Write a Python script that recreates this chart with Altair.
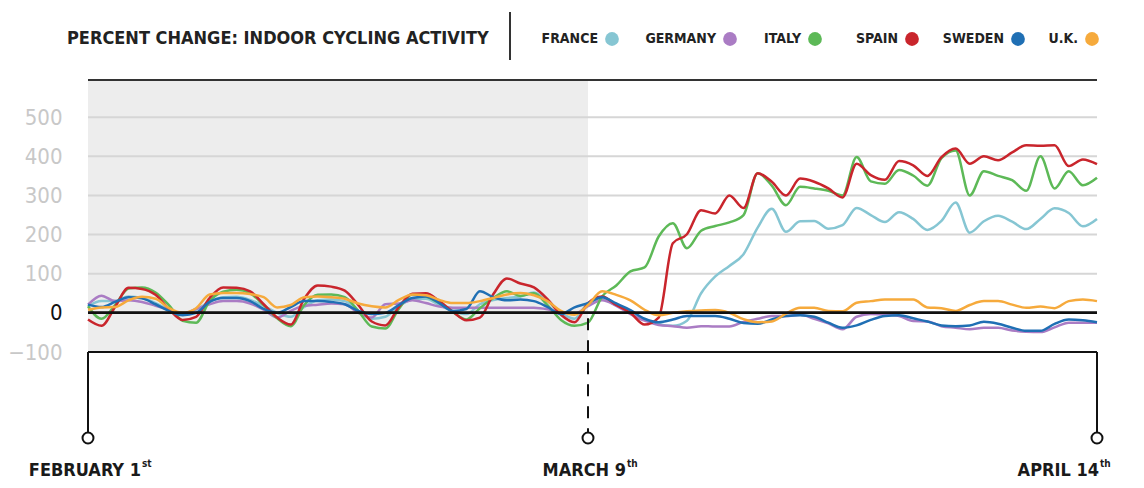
import altair as alt
import pandas as pd

COUNTRIES = ["FRANCE", "GERMANY", "ITALY", "SPAIN", "SWEDEN", "U.K."]
COLORS = ["#86c6d3", "#aa7cc4", "#5db957", "#c9252c", "#1f6fb4", "#f6aa3c"]
START, MID, END = "2020-02-01", "2020-03-09", "2020-04-14"
DATES = pd.date_range(START, END, freq="D")

FRANCE = [17, 30, 30, 42, 38, 25, 7, -4, 8, 28, 40, 41, 33, 18, 0, -10, 15, 32, 34, 30,
          5, -15, -10, 17, 34, 36, 20, 5, -3, 22, 33, 38, 42, 52, 30, 0, -15, 25,
          35, 19, 0, -17, -29, -33, -20, 50, 93, 120, 150, 218, 266, 207, 234, 235, 215, 224,
          268, 250, 232, 257, 240, 212, 235, 282, 205, 234, 248, 233, 214, 240, 267, 255, 221, 240]
GERMANY = [21, 44, 30, 32, 28, 18, 8, -2, 10, 22, 30, 30, 24, 8, -12, 5, 18, 21, 24, 22,
           0, -12, 22, 24, 32, 25, 16, 13, 13, 13, 13, 13, 13, 13, 9, 0, -2, 17,
           32, 18, -3, -20, -31, -34, -38, -34, -35, -35, -23, -15, -8, -8, -5, -15, -27, -42,
           -10, -3, -4, -8, -21, -22, -34, -38, -42, -38, -38, -45, -48, -49, -37, -25, -25, -25]
ITALY = [17, -15, 20, 62, 65, 52, 19, -20, -25, 30, 54, 59, 50, 20, -14, -34, 20, 46, 47, 40,
         5, -35, -40, 10, 47, 42, 25, 2, -17, 12, 38, 55, 43, 50, 20, -18, -33, -25,
         42, 70, 106, 116, 195, 229, 165, 210, 222, 231, 250, 357, 325, 275, 322, 318, 312, 300,
         398, 336, 330, 365, 351, 325, 395, 415, 300, 362, 350, 339, 312, 400, 318, 362, 326, 345]
SPAIN = [-17, -33, 15, 64, 61, 46, 9, -18, -10, 38, 65, 64, 55, 22, -12, -30, 36, 70, 67, 57,
         20, -22, -32, 15, 49, 50, 30, 3, -19, -12, 48, 88, 75, 65, 35, -5, -24, 25,
         42, 20, 0, -30, -12, 178, 201, 262, 254, 300, 268, 357, 335, 300, 343, 335, 318, 295,
         381, 352, 340, 388, 377, 350, 398, 420, 381, 400, 390, 410, 428, 427, 428, 375, 392, 380]
SWEDEN = [21, 15, 28, 40, 37, 22, 5, -6, 0, 28, 38, 38, 30, 10, 0, 15, 30, 30, 28, 22,
          5, -3, 0, 20, 38, 42, 25, 5, 10, 55, 40, 32, 34, 30, 15, -3, 14, 25,
          40, 24, 7, -15, -24, -17, -8, -8, -8, -15, -26, -28, -17, -8, -6, -10, -25, -38,
          -32, -18, -8, -6, -14, -22, -32, -34, -32, -23, -28, -38, -46, -46, -28, -17, -19, -24]
UK = [8, 14, 15, 32, 41, 36, 12, 0, 12, 47, 51, 51, 48, 40, 14, 20, 40, 42, 40, 36,
      24, 17, 14, 33, 47, 45, 33, 25, 25, 30, 38, 47, 51, 45, 30, 5, -5, 20,
      55, 46, 32, 8, -6, 0, 4, 6, 7, 0, -16, -24, -22, -2, 13, 13, 5, 4,
      26, 30, 34, 34, 34, 14, 12, 5, 20, 30, 30, 21, 13, 16, 12, 30, 34, 30]

SERIES = [FRANCE, GERMANY, ITALY, SPAIN, SWEDEN, UK]
Y_TICKS = [-100, 0, 100, 200, 300, 400, 500]
GRID = [100, 200, 300, 400, 500]
Y_MIN, Y_MAX = -100, 595
TITLE = "PERCENT CHANGE: INDOOR CYCLING ACTIVITY"
MARK_DATES = [START, MID, END]
MARK_MAIN = ["FEBRUARY 1", "MARCH 9", "APRIL 14"]
MARK_SUP = ["st", "th", "th"]

# ---------- build tables (day = days since February 1st) ----------
t0 = pd.Timestamp(START)


def day(s):
    return (pd.Timestamp(s) - t0).days


rows = []
for name, vals in zip(COUNTRIES, SERIES):
    for d, v in zip(DATES, vals):
        rows.append({"date": d, "day": (d - t0).days, "country": name, "value": v})
lines_df = pd.DataFrame(rows)
shade_df = pd.DataFrame({"start": [day(START)], "end": [day(MID)]})
grid_df = pd.DataFrame({"v": GRID})
marks_df = pd.DataFrame({"day": [day(s) for s in MARK_DATES], "main": MARK_MAIN, "sup": MARK_SUP})

NARROW = "Liberation Sans Narrow, DejaVu Sans Condensed, Roboto Condensed, sans-serif"
W, H = 1009, 272

# piecewise day axis: the reference places March 9th at 500 px of the 1009 px span
xscale = alt.Scale(domain=[day(START), day(MID), day(END)], range=[0, 500, W],
                   nice=False, zero=False)
yscale = alt.Scale(domain=[Y_MIN, Y_MAX], nice=False, zero=False)


def X(f):
    return alt.X(f, type="quantitative", scale=xscale, axis=None)


shade = alt.Chart(shade_df).mark_rect(color="#ededed").encode(
    x=X("start"), x2="end",
    y=alt.datum(Y_MAX, scale=yscale), y2=alt.datum(Y_MIN),
)

grid = alt.Chart(grid_df).mark_rule(color="#d6d6d6", strokeWidth=2).encode(
    y=alt.Y("v:Q", scale=yscale,
            axis=alt.Axis(values=Y_TICKS, title=None, domain=False, ticks=False, tickSize=0,
                          grid=False, labelFont=NARROW, labelFontSize=22, labelPadding=26,
                          labelColor=alt.expr("datum.value == 0 ? '#111111' : '#c8c8c8'"))),
)

lines = alt.Chart(lines_df).mark_line(strokeWidth=2.5, interpolate="monotone").encode(
    x=X("day"),
    y=alt.Y("value:Q", scale=yscale),
    color=alt.Color("country:N", scale=alt.Scale(domain=COUNTRIES, range=COLORS), legend=None),
    order=alt.Order("day:Q"),
)

zero = alt.Chart(grid_df).mark_rule(color="#111111", strokeWidth=2).encode(y=alt.datum(0, scale=yscale))
bottom = alt.Chart(grid_df).mark_rule(color="#111111", strokeWidth=2).encode(y=alt.datum(Y_MIN, scale=yscale))
top = alt.Chart(grid_df).mark_rule(color="#333333", strokeWidth=2).encode(y=alt.value(0))

ends_df = marks_df[marks_df["main"] != "MARCH 9"]
mid_df = marks_df[marks_df["main"] == "MARCH 9"]
end_rules = alt.Chart(ends_df).mark_rule(color="#111111", strokeWidth=2).encode(
    x=X("day"), y=alt.datum(Y_MIN, scale=yscale), y2=alt.value(H + 80))
mid_rule = alt.Chart(mid_df).mark_rule(color="#111111", strokeWidth=2, strokeDash=[12, 10]).encode(
    x=X("day"), y=alt.datum(-14, scale=yscale), y2=alt.value(H + 80))
circles = alt.Chart(marks_df).mark_point(shape="circle", filled=True, fill="white", stroke="#111111",
                                         strokeWidth=2, size=120, opacity=1).encode(
    x=X("day"), y=alt.value(H + 86))

label_layers = []
for i, dx in enumerate([53, 38, 2]):
    sub = marks_df.iloc[[i]]
    label_layers.append(alt.Chart(sub).mark_text(font=NARROW, fontSize=18, fontWeight="bold",
                                                 color="#1a1a1a", align="right", baseline="alphabetic",
                                                 dx=dx).encode(
        x=X("day"), y=alt.value(H + 124), text="main:N"))
    label_layers.append(alt.Chart(sub).mark_text(font=NARROW, fontSize=10, fontWeight="bold",
                                                 color="#1a1a1a", align="left", baseline="alphabetic",
                                                 dx=dx + 1).encode(
        x=X("day"), y=alt.value(H + 115), text="sup:N"))

title = alt.Chart(grid_df.head(1)).mark_text(text=TITLE, font=NARROW, fontSize=18, fontWeight="bold",
                                              color="#222222", align="left", baseline="middle").encode(
    x=alt.value(-21), y=alt.value(-41))
sep = alt.Chart(grid_df.head(1)).mark_rule(color="#333333", strokeWidth=2).encode(
    x=alt.value(422), y=alt.value(-68), y2=alt.value(-20))

LEGEND_X = [524, 642, 727, 824, 930, 1004]
leg_df = pd.DataFrame({"country": COUNTRIES, "px": LEGEND_X})
leg_dots = alt.Chart(leg_df).mark_point(shape="circle", filled=True, size=190, opacity=1).encode(
    x=alt.X("px:Q", scale=None), y=alt.value(-41),
    color=alt.Color("country:N", scale=alt.Scale(domain=COUNTRIES, range=COLORS), legend=None))
leg_text = alt.Chart(leg_df).mark_text(font=NARROW, fontSize=14, fontWeight="bold", color="#222222",
                                       align="right", baseline="middle", dx=-14).encode(
    x=alt.X("px:Q", scale=None), y=alt.value(-41), text="country:N")

chart = alt.layer(shade, grid, lines, zero, bottom, top, end_rules, mid_rule, circles,
                  *label_layers, title, sep, leg_dots, leg_text).properties(
    width=W, height=H,
    padding={"left": 80, "top": 72, "right": 39, "bottom": 128},
    autosize=alt.AutoSizeParams(type="none"),
).configure_view(stroke=None)

chart.save("out.html", embed_options={"renderer": "svg", "actions": False})
